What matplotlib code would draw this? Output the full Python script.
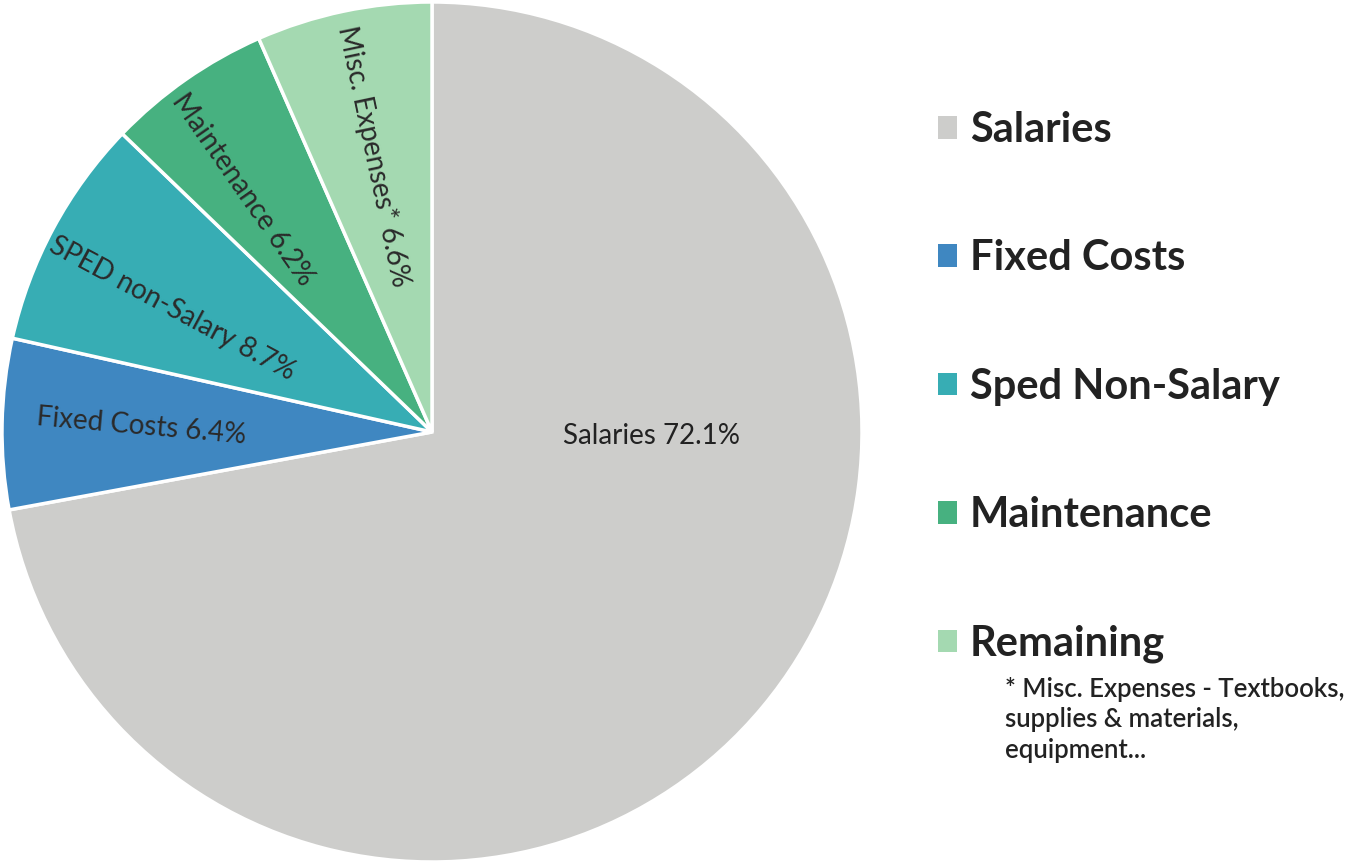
import numpy as np
import matplotlib
matplotlib.use("Agg")
import matplotlib.pyplot as plt
from matplotlib.patches import Patch

plt.rcParams['font.family'] = ['Lato', 'DejaVu Sans']

# данные
categories = ['Salaries', 'Fixed Costs', 'SPED non-Salary', 'Maintenance', 'Misc. Expenses*']
shares = [72.1, 6.4, 8.7, 6.2, 6.6]
colors = ['#cdcdcb', '#3f87c1', '#37adb4', '#47b180', '#a4d9b1']
legend_labels = ['Salaries', 'Fixed Costs', 'Sped Non-Salary', 'Maintenance', 'Remaining']
footnote = '* Misc. Expenses - Textbooks,\nsupplies & materials,\nequipment...'

W, H = 1353, 866
fig = plt.figure(figsize=(W / 100, H / 100), dpi=100)
ax = fig.add_axes([2 / W, 4 / H, 860 / W, 860 / H])

wedges, _ = ax.pie(shares, colors=colors, startangle=90, counterclock=False,
                   wedgeprops=dict(edgecolor='white', linewidth=2.5))
ax.set_aspect('equal')
ax.set_xlim(-1, 1)
ax.set_ylim(-1, 1)

# подписи секторов
radii = [0.51, 0.675, 0.67, 0.715, 0.655]
ang_fix = [0, 0, 2.8, 3.0, 0]
rot_fix = [0, -4, 0, 0, 0]
for i, (w, name, val) in enumerate(zip(wedges, categories, shares)):
    txt = f'{name} {val}%'
    if i == 0:
        ax.text(radii[0], -0.01, txt, ha='center', va='center', fontsize=20, color='#222222')
        continue
    mid = (w.theta1 + w.theta2) / 2
    a = mid + ang_fix[i]
    x = radii[i] * np.cos(np.radians(a))
    y = radii[i] * np.sin(np.radians(a))
    ax.text(x, y, txt, ha='center', va='center', fontsize=20, color='#2a2a2a',
            rotation=mid - 180 + rot_fix[i], rotation_mode='anchor')

# легенда
handles = [Patch(facecolor=c, edgecolor='none') for c in colors]
fig.legend(handles, legend_labels, loc='upper left', bbox_to_anchor=(938 / W, 1 - 111 / H),
           frameon=False, prop=dict(family=['Lato', 'DejaVu Sans'], weight='bold', size=30),
           labelspacing=2.17, handlelength=0.46, handleheight=0.46, handletextpad=0.3,
           borderpad=0, borderaxespad=0, labelcolor='#222222')

fig.text(1005 / W, 1 - 677 / H, footnote, ha='left', va='top', fontsize=18.5,
         weight='semibold', color='#222222', linespacing=1.27)

fig.savefig('out.png', dpi=100, facecolor='white')
